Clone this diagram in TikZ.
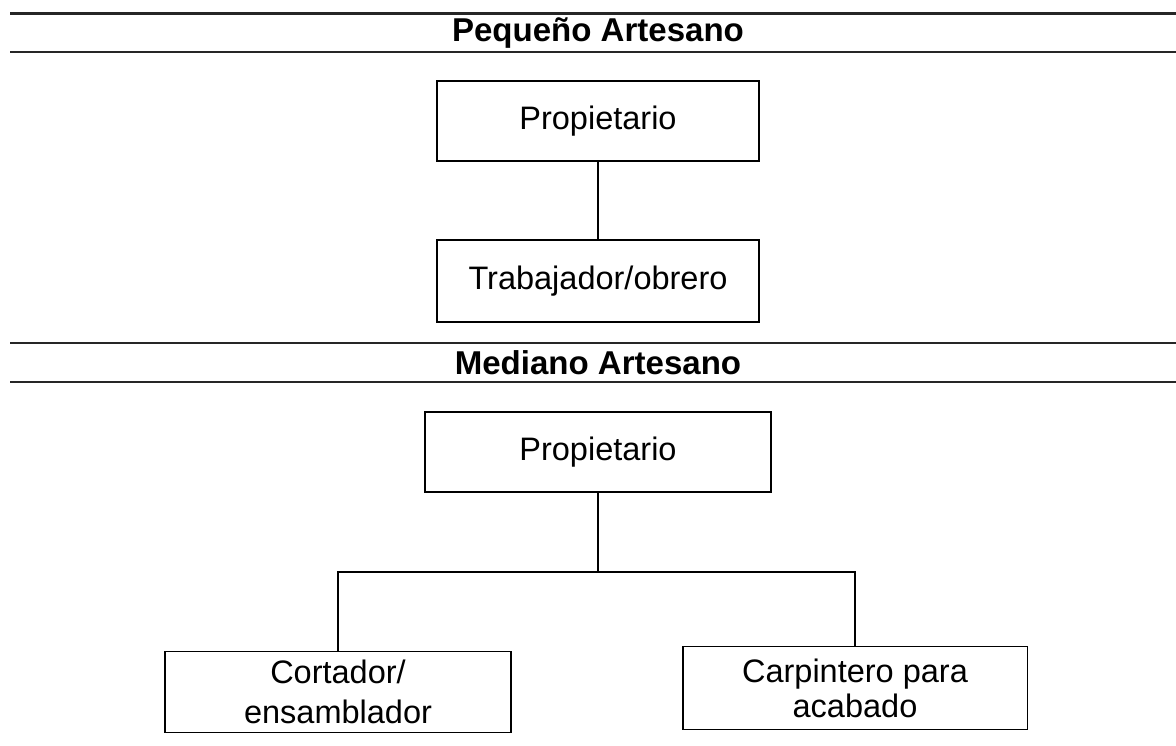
\documentclass[tikz,border=0pt]{standalone}
\usepackage{fontspec}
\setmainfont{Liberation Sans}
\usepackage{tikz}
\tikzset{>=latex}
\tikzset{
    orgbox/.style={draw=black, line width=1.1pt, align=center, inner sep=0pt,
        font=\fontsize{18.5}{22}\selectfont},
    rulerline/.style={line width=1.1pt, draw=black!85},
    header/.style={font=\fontsize{18.8}{21}\selectfont\bfseries, inner sep=0pt},
    link/.style={line width=1.1pt}
}

\begin{document}
\begin{tikzpicture}[x=0.02cm, y=-0.02cm]
    \useasboundingbox (0,0) rectangle (1176,745);

    \draw[rulerline, line width=1.7pt] (10,13) -- (1176,13);
    \node[header] (small) at (598,33) {Pequeño Artesano};
    \draw[rulerline] (10,52) -- (1176,52);
    \node[orgbox, minimum width=6.44cm, minimum height=1.6cm] (ownA) at (598,121) {Propietario};
    \node[orgbox, minimum width=6.44cm, minimum height=1.64cm] (worker) at (598,281) {Trabajador/obrero};
    \draw[link] (ownA) -- (worker);

    \draw[rulerline] (10,343) -- (1176,343);
    \node[header] (medium) at (598,363) {Mediano Artesano};
    \draw[rulerline] (10,382) -- (1176,382);
    \node[orgbox, minimum width=6.92cm, minimum height=1.6cm] (ownB) at (598,452) {Propietario};
    \node[orgbox, minimum width=6.92cm, minimum height=1.62cm] (cutter) at (338,692) {Cortador/\\[1pt]ensamblador};
    \node[orgbox, minimum width=6.9cm, minimum height=1.66cm] (carpenter) at (855,688) {Carpintero para\\[-2pt]acabado};
    \coordinate (split) at (598,572);
    \draw[link] (ownB) -- (split);
    \draw[link] (cutter.north) |- (split) -| (carpenter.north);

\end{tikzpicture}
\end{document}
